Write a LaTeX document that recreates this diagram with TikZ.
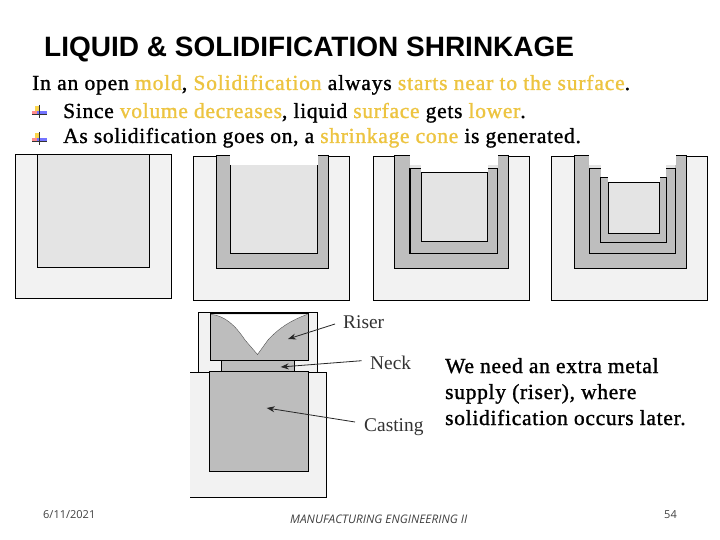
\documentclass[tikz,border=0pt]{standalone}
\usetikzlibrary{arrows.meta}
\usepackage{fontspec}
\setmainfont{Liberation Serif}
\newfontfamily\arialf{Liberation Sans}
\newfontfamily\footf{Open Sans}
\newfontfamily\bodyf[FakeBold=1.2,LetterSpace=3.3]{Liberation Serif}
\newfontfamily\bodywf[FakeBold=1.2,LetterSpace=3.95]{Liberation Serif}
\definecolor{moldc}{HTML}{F2F2F2}
\definecolor{liqc}{HTML}{E4E4E4}
\definecolor{solc}{HTML}{BEBEBE}
\definecolor{risc}{HTML}{BDBDBD}
\definecolor{hi}{HTML}{EDC440}
\newcommand{\hl}[1]{\textcolor{hi}{#1}}
\tikzset{
 ln/.style={draw=black,line width=0.8pt},
 moldbox/.style={fill=moldc,ln},
 liq/.style={fill=liqc,ln},
 sol/.style={fill=solc,ln},
 body/.style={inner sep=0pt,anchor=base west,font=\bodyf\fontsize{21.5}{24}\selectfont},
 footer/.style={inner sep=0pt,anchor=base west,text=black!75},
 lab/.style={inner sep=0pt,anchor=base west,font=\fontsize{19.4}{22}\selectfont,text=black!80},
 arr/.style={-{Stealth[length=8pt,width=6pt]},line width=0.8pt,draw=black!85},
}
\begin{document}
\begin{tikzpicture}[x=1pt,y=-1pt]
\useasboundingbox (0,0) rectangle (720,540);
\fill[white] (0,0) rectangle (720,540);
% texts
\node[inner sep=0pt,anchor=base west,font=\arialf\bfseries\fontsize{28}{32}\selectfont] (title) at (44,57) {LIQUID \& SOLIDIFICATION SHRINKAGE};
\node[body,font=\bodywf\fontsize{21.5}{24}\selectfont] (l1) at (32,90) {In an open \hl{mold}, \hl{Solidification} always \hl{starts near to the surface}.};
\node[body] (l2) at (63,118) {Since \hl{volume decreases}, liquid \hl{surface} gets \hl{lower}.};
\node[body] (l3) at (63,143) {As solidification goes on, a \hl{shrinkage cone} is generated.};
% bullets
\foreach \y in {111,138}{
 \fill[yellow!60!orange!70] (35,\y-5) rectangle (40,\y);
 \fill[red!45] (32,\y) rectangle (37,\y+3);
 \fill[blue!55] (37,\y) rectangle (47,\y+4);
 \draw[black!80,line width=0.7pt] (39.5,\y-6) -- (39.5,\y+7) (32,\y+3) -- (47,\y+3);
}
% box 1
\draw[moldbox] (15.3,154.5) rectangle (171.7,298.3);
\draw[liq] (37.5,154.5) rectangle (149.7,267.3);
% box 2
\draw[moldbox] (193.3,156) rectangle (349.7,300.3);
\draw[sol] (216,155.3) rectangle (328.3,268.3);
\fill[white] (230.3,150) rectangle (317.7,165);
\draw[fill=liqc,ln] (230.3,165) -- (230.3,253.3) -- (317.7,253.3) -- (317.7,165);
% box 3
\draw[moldbox] (373.3,156) rectangle (529.3,300.3);
\draw[sol] (394.3,155.3) rectangle (508.3,268.3);
\fill[liqc] (409.5,165) rectangle (497.5,172);
\draw[fill=solc,ln,line width=1.1pt] (410,168.3) -- (410,253.3) -- (497.3,253.3) -- (497.3,168.3) -- cycle;
\fill[white] (409.5,150) rectangle (497.5,165);
\fill[white] (421.3,160) rectangle (487.7,172.7);
\draw[liq] (421.3,172.7) rectangle (487.7,241.3);
% box 4
\draw[moldbox] (551.3,156) rectangle (707.3,300.3);
\draw[sol] (574.3,155.3) rectangle (686.7,268.3);
\fill[liqc] (589.3,165) rectangle (675.3,172);
\draw[sol] (589.3,168.3) rectangle (675.3,253.3);
\fill[white] (589,150) rectangle (675.6,165);
\draw[sol] (600.3,177.3) rectangle (666,242);
\fill[white] (600.7,160) rectangle (665.6,177.3);
\fill[white] (608.3,170) rectangle (659.7,182.3);
\draw[liq] (608.3,182.3) rectangle (659.7,233.3);
% riser system
\draw[moldbox] (198.3,312.3) rectangle (317.7,372.3);
\fill[moldc] (190,372.3) rectangle (326.7,497.3);
\draw[ln] (190,372.3) -- (326.7,372.3) -- (326.7,497.3) -- (190,497.3);
\draw[fill=risc,ln] (210.3,313.7) rectangle (308,360.3);
\fill[white] (211,314.3) .. controls (225,316) and (235,325) .. (245,340) -- (257.5,354.5) -- (268,340)
  .. controls (280,327) and (292,320) .. (307.5,314.3) -- cycle;
\draw[black!70,line width=0.4pt] (211,314.3) .. controls (225,316) and (235,325) .. (245,340) -- (257.5,354.5) -- (268,340)
  .. controls (280,327) and (292,320) .. (307.5,314.3);
\draw[fill=risc,ln] (221.3,360.3) rectangle (294.7,372.3);
\draw[fill=risc,ln] (209.3,371.3) rectangle (308.3,471.3);
% labels
\node[lab] (riser) at (343,328) {Riser};
\node[lab] (neck) at (370,369) {Neck};
\node[lab] (casting) at (364,431) {Casting};
\coordinate (rh) at (288,339);
\coordinate (nh) at (280.7,367);
\coordinate (ch) at (266.7,408);
\coordinate (rt) at (335,324);
\coordinate (nt) at (361.7,360.7);
\coordinate (ct) at (355,422);
\draw[arr] (rt) -- (rh);
\draw[arr] (nt) -- (nh);
\draw[arr] (ct) -- (ch);
\node[body] (w1) at (445,373) {We need an extra metal};
\node[body] (w2) at (445,399) {supply (riser), where};
\node[body] (w3) at (445,425) {solidification occurs later.};
% footer
\node[footer,font=\footf\fontsize{11}{13}\selectfont] (date) at (43,518) {6/11/2021};
\node[footer,font=\footf\itshape\fontsize{11.8}{13}\selectfont] (mid) at (290,523) {MANUFACTURING ENGINEERING II};
\node[footer,font=\footf\fontsize{11}{13}\selectfont] (num) at (664,518) {54};
\end{tikzpicture}
\end{document}
